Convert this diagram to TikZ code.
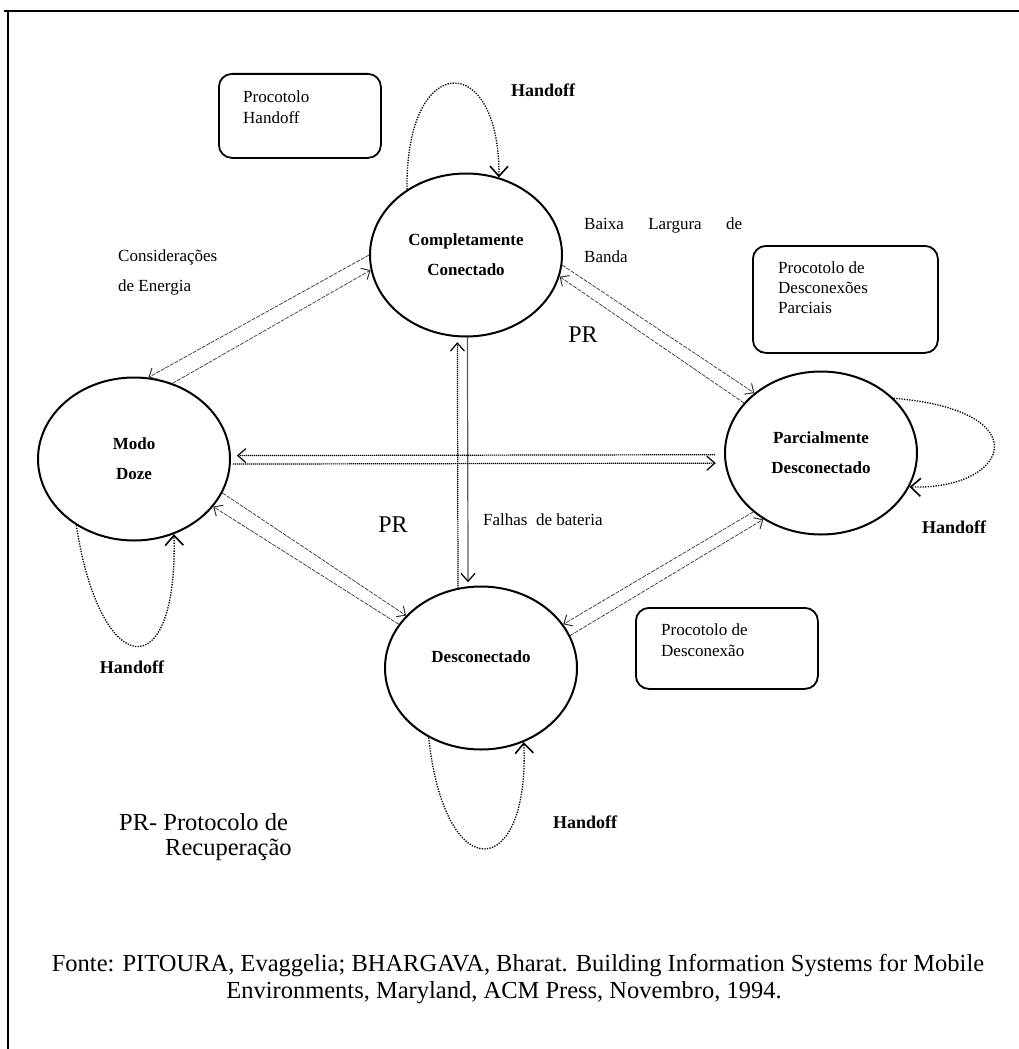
\documentclass[tikz,border=0pt]{standalone}
\usepackage{fontspec}
\setmainfont{Liberation Serif}
\usetikzlibrary{shapes.geometric,arrows.meta}
\begin{document}
\begin{tikzpicture}[x=1pt,y=-1pt,
  state/.style={ellipse,draw,line width=2pt,minimum width=192pt,minimum height=163pt,inner sep=0pt,align=center,font=\fontsize{17}{30}\selectfont\bfseries},
  notebox/.style={draw,line width=1.8pt,rounded corners=13pt,anchor=north west,inner sep=0pt},
  notetext/.style={anchor=north west,inner sep=0pt,align=left},
  conn/.style={line width=0.7pt,draw=black!80,dash pattern=on 4pt off 1.2pt,-{Straight Barb[length=7pt,width=13pt,line width=1pt]}},
  dline/.style={line width=1.2pt,dash pattern=on 1.2pt off 0.8pt,-{Straight Barb[length=8pt,width=14pt,line width=1.2pt]}},
  selfloop/.style={line width=1.3pt,dash pattern=on 1.3pt off 1.3pt,-{Straight Barb[length=10pt,width=18pt,line width=1.6pt]}},
  hand/.style={inner sep=0pt,font=\fontsize{18}{20}\selectfont\bfseries},
  lab/.style={inner sep=0pt,font=\fontsize{17}{20}\selectfont},
  prlab/.style={inner sep=0pt,font=\fontsize{24}{28}\selectfont},
  big/.style={inner sep=0pt,font=\fontsize{24.5}{28}\selectfont}
]
\useasboundingbox (0,0) rectangle (1019,1049);
\fill[white] (0,0) rectangle (1019,1049);
% frame
\draw[line width=2.5pt] (4,11) -- (1019,11);
\draw[line width=2.5pt] (8,11) -- (8,1049);

% states
\node[state] (cc) at (466,255) {Completamente\\Conectado};
\node[state] (md) at (134,459) {Modo\\Doze};
\node[state] (pd) at (821,453) {Parcialmente\\Desconectado};
\node[state,text depth=22pt] (dc) at (481,668) {Desconectado};

% boxes
\node[notebox,minimum width=162pt,minimum height=84pt] (b1) at (218,73) {};
\node[notetext,font=\fontsize{17}{21}\selectfont] (b1t) at (243,91) {Procotolo\\Handoff};
\node[notebox,minimum width=185pt,minimum height=107pt] (b2) at (752,245) {};
\node[notetext,font=\fontsize{17}{20}\selectfont] (b2t) at (778,262) {Procotolo de\\Desconexões\\Parciais};
\node[notebox,minimum width=182pt,minimum height=81pt] (b3) at (635,607) {};
\node[notetext,font=\fontsize{17}{21}\selectfont] (b3t) at (661,623) {Procotolo de\\Desconexão};

% connectors
\draw[conn] (cc.180) -- (md.80);
\draw[conn] (md.63) -- (cc.189);
\draw[conn] (cc.354) -- (pd.138);
\draw[conn] (pd.147) -- (cc.347);
\draw[dline,shorten >=5pt] (dc.106) -- (cc.264);
\draw[dline,shorten >=4pt] (cc.271) -- (dc.99);
\draw[dline,shorten <=9pt,shorten >=6pt] (pd.181) -- (md.2);
\draw[dline,shorten <=2pt,shorten >=9pt] (md.357) -- (pd.186);
\draw[conn] (md.339) -- (dc.145);
\draw[conn] (dc.152) -- (md.329);
\draw[conn] (dc.20) -- (pd.229);
\draw[conn] (pd.221) -- (dc.28);

% self loops
\draw[selfloop] (cc.132) .. controls (405,50) and (500,50) .. (cc.67);
\draw[selfloop] (md.229) .. controls (100,680) and (178,690) .. (md.298);
\draw[selfloop] (dc.233) .. controls (445,890) and (530,880) .. (dc.300);
\draw[selfloop] (pd.37) .. controls (1040,410) and (1010,490) .. (pd.339);

% labels
\node[hand] (h1) at (543,90) {Handoff};
\node[hand] (h2) at (132,667) {Handoff};
\node[hand] (h3) at (954,527) {Handoff};
\node[hand] (h4) at (585,822) {Handoff};
\node[lab,anchor=west] (bl1) at (584,225) {\makebox[158pt][s]{Baixa Largura de}};
\node[lab,anchor=west] (bl2) at (584,257) {Banda};
\node[lab,anchor=west] (ce1) at (118,257) {Considerações};
\node[lab,anchor=west] (ce2) at (118,287) {de Energia};
\node[prlab] (pr1) at (583,335) {PR};
\node[prlab] (pr2) at (393,525) {PR};
\node[lab,anchor=west] (fb) at (483,520) {Falhas\ \ de bateria};
\node[big,anchor=west] (leg1) at (119,822) {PR- Protocolo de};
\node[big,anchor=west] (leg2) at (165,850) {Recuperação};
\node[big] (src1) at (518,966) {Fonte: PITOURA, Evaggelia; BHARGAVA, Bharat. Building Information Systems for Mobile};
\node[big] (src2) at (504,993) {Environments, Maryland, ACM Press, Novembro, 1994.};
\end{tikzpicture}
\end{document}
